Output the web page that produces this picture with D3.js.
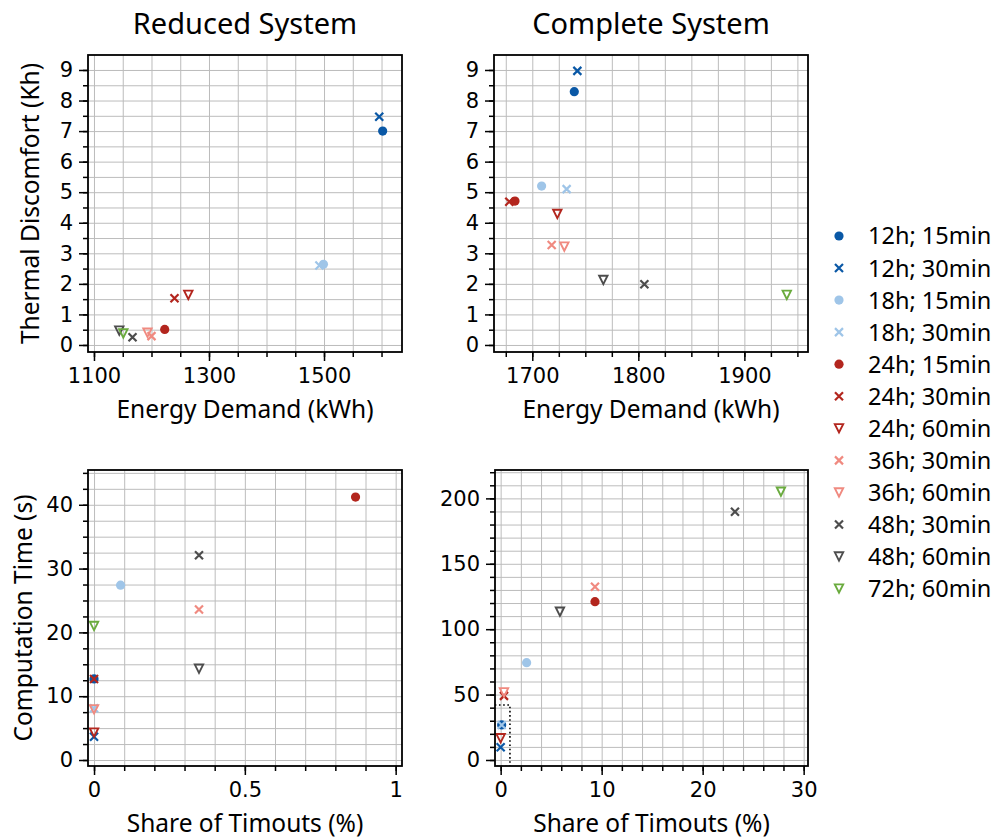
<!DOCTYPE html>
<html>
<head>
<meta charset="utf-8">
<script src="https://cdn.jsdelivr.net/npm/d3@7"></script>
<style>
  body { margin: 0; background: #fff; }
  svg { display: block; }
</style>
</head>
<body>
<div class="container"></div>
<script>
// series (legend order)
const seriesLabels = ['12h; 15min', '12h; 30min', '18h; 15min', '18h; 30min', '24h; 15min', '24h; 30min',
    '24h; 60min', '36h; 30min', '36h; 60min', '48h; 30min', '48h; 60min', '72h; 60min']
const seriesColors = ['#0a58a6', '#0a58a6', '#9fc5e8', '#9fc5e8', '#b3261e', '#b3261e',
    '#b3261e', '#f08a80', '#f08a80', '#4d4d4d', '#4d4d4d', '#6aab3e']
const seriesMarkers = ['circle', 'cross', 'circle', 'cross', 'circle', 'cross',
    'tri', 'cross', 'tri', 'cross', 'tri', 'tri']

// values
const reducedEnergy = [1602, 1596, 1499, 1492, 1223, 1240, 1264, 1200, 1193, 1167, 1144, 1151]
const reducedDiscomfort = [7.0, 7.47, 2.64, 2.6, 0.51, 1.53, 1.64, 0.29, 0.40, 0.25, 0.47, 0.38]
const completeEnergy = [1739.6, 1742.5, 1708.8, 1732.4, 1683.7, 1678.3, 1723.6, 1718.3, 1730.2, 1805.7, 1767, 1940]
const completeDiscomfort = [8.29, 8.97, 5.20, 5.10, 4.71, 4.69, 4.29, 3.27, 3.22, 1.99, 2.13, 1.64]
const reducedTimeouts = [0, 0, 0.088, 0, 0.867, 0, 0, 0.348, 0, 0.348, 0.348, 0]
const reducedTime = [12.7, 3.65, 27.4, 8.1, 41.2, 12.7, 4.3, 23.6, 7.95, 32.1, 14.3, 21.0]
const completeTimeouts = [0.1, 0, 2.57, 0.1, 9.34, 0.33, 0, 9.34, 0.33, 23.2, 5.87, 27.75]
const completeTime = [26.8, 9.7, 74.4, 26.8, 121.0, 49.0, 16.6, 132.5, 51.7, 189.8, 113.4, 205.1]

// tick labels
const reducedEnergyTicks = [1100, 1300, 1500]
const completeEnergyTicks = [1700, 1800, 1900]
const discomfortTicks = [0, 1, 2, 3, 4, 5, 6, 7, 8, 9]
const reducedShareTicks = [0, 0.5, 1]
const reducedTimeTicks = [0, 10, 20, 30, 40]
const completeShareTicks = [0, 10, 20, 30]
const completeTimeTicks = [0, 50, 100, 150, 200]

const tickFont = '"DejaVu Sans", sans-serif'
const labelFont = '"Noto Sans", sans-serif'

const svg = d3.select('.container')
    .append('svg')
    .attr('width', 994)
    .attr('height', 838)

const panels = [
    { left: 88, top: 55, w: 314, h: 297, xDom: [1089.6, 1635.6], yDom: [-0.23, 9.49],
      xTicks: reducedEnergyTicks, xMinor: 50, yTicks: discomfortTicks, yMinor: 0.5,
      xs: reducedEnergy, ys: reducedDiscomfort, title: 'Reduced System',
      xLabel: 'Energy Demand (kWh)', yLabel: 'Thermal Discomfort (Kh)', yLabelX: 39 },
    { left: 494, top: 55, w: 314, h: 297, xDom: [1663.9, 1960], yDom: [-0.23, 9.49],
      xTicks: completeEnergyTicks, xMinor: 25, yTicks: discomfortTicks, yMinor: 0.5,
      xs: completeEnergy, ys: completeDiscomfort, title: 'Complete System',
      xLabel: 'Energy Demand (kWh)' },
    { left: 88, top: 470, w: 314, h: 296, xDom: [-0.02, 1.021], yDom: [-0.94, 45.45],
      xTicks: reducedShareTicks, xMinor: 0.1, yTicks: reducedTimeTicks, yMinor: 2.5,
      xs: reducedTimeouts, ys: reducedTime,
      xLabel: 'Share of Timouts (%)', yLabel: 'Computation Time (s)', yLabelX: 32 },
    { left: 495, top: 470, w: 313, h: 296, xDom: [-0.56, 30.43], yDom: [-4.6, 221.7],
      xTicks: completeShareTicks, xMinor: 2, yTicks: completeTimeTicks, yMinor: 10,
      xs: completeTimeouts, ys: completeTime,
      xLabel: 'Share of Timouts (%)', box: { x: [-1, 0.92], y: [-5, 42] } },
]

const minorValues = (dom, step) => {
    const out = []
    const start = Math.ceil(dom[0] / step - 1e-9)
    for (let k = start; k * step <= dom[1] + 1e-9; k++) out.push(+(k * step).toFixed(6))
    return out
}

const drawMarker = (sel, kind, color) => {
    if (kind === 'circle') {
        sel.append('circle').attr('r', 4.6).attr('fill', color)
    } else if (kind === 'cross') {
        sel.append('path').attr('d', 'M-4,-4L4,4M-4,4L4,-4')
            .attr('stroke', color).attr('stroke-width', 2.2).attr('fill', 'none')
    } else {
        sel.append('path').attr('d', 'M-4.2,-4.2L4.2,-4.2L0,4.2Z')
            .attr('stroke', color).attr('stroke-width', 1.9).attr('fill', 'none')
            .attr('stroke-linejoin', 'miter')
    }
}

panels.forEach((p, pi) => {
    const g = svg.append('g').attr('transform', `translate(${p.left}, ${p.top})`)
    const x = d3.scaleLinear().domain(p.xDom).range([0, p.w])
    const y = d3.scaleLinear().domain(p.yDom).range([p.h, 0])
    const xMinorVals = minorValues(p.xDom, p.xMinor)
    const yMinorVals = minorValues(p.yDom, p.yMinor)

    // grid (major + minor)
    g.append('g')
        .attr('class', 'grid')
        .attr('transform', `translate(0, ${p.h})`)
        .call(d3.axisBottom(x).tickValues(xMinorVals).tickSize(-p.h).tickFormat(''))
    g.append('g')
        .attr('class', 'grid')
        .call(d3.axisLeft(y).tickValues(yMinorVals).tickSize(-p.w).tickFormat(''))
    g.selectAll('.grid .domain').remove()
    g.selectAll('.grid line').attr('stroke', '#bcbcbc').attr('stroke-width', 1)

    const clipId = 'clip' + pi
    g.append('clipPath').attr('id', clipId)
        .append('rect').attr('width', p.w).attr('height', p.h)

    const plot = g.append('g').attr('clip-path', `url(#${clipId})`)

    if (p.box) {
        plot.append('rect')
            .attr('x', x(p.box.x[0]))
            .attr('y', y(p.box.y[1]))
            .attr('width', x(p.box.x[1]) - x(p.box.x[0]))
            .attr('height', y(p.box.y[0]) - y(p.box.y[1]))
            .attr('fill', 'none')
            .attr('stroke', '#000')
            .attr('stroke-width', 1.6)
            .attr('stroke-dasharray', '1.6,2.6')
    }

    p.xs.forEach((v, i) => {
        const m = plot.append('g').attr('transform', `translate(${x(v)}, ${y(p.ys[i])})`)
        drawMarker(m, seriesMarkers[i], seriesColors[i])
    })

    // minor ticks
    g.append('g')
        .attr('class', 'minor')
        .attr('transform', `translate(0, ${p.h})`)
        .call(d3.axisBottom(x).tickValues(xMinorVals).tickSize(5).tickFormat(''))
    g.append('g')
        .attr('class', 'minor')
        .call(d3.axisLeft(y).tickValues(yMinorVals).tickSize(5).tickFormat(''))

    // major ticks
    g.append('g')
        .attr('class', 'major')
        .attr('transform', `translate(0, ${p.h})`)
        .call(d3.axisBottom(x).tickValues(p.xTicks).tickSize(9).tickPadding(7).tickFormat(d3.format('~g')))
    g.append('g')
        .attr('class', 'major')
        .call(d3.axisLeft(y).tickValues(p.yTicks).tickSize(9).tickPadding(6).tickFormat(d3.format('~g')))

    g.selectAll('.minor .domain, .major .domain').remove()
    g.selectAll('.minor line, .major line').attr('stroke', '#000').attr('stroke-width', 1.5)
    g.selectAll('.major text')
        .attr('font-family', tickFont)
        .attr('font-size', 21)
        .attr('fill', '#000')

    // spines
    g.append('rect')
        .attr('width', p.w).attr('height', p.h)
        .attr('fill', 'none').attr('stroke', '#000').attr('stroke-width', 1.8)

    if (p.title) {
        g.append('text')
            .attr('x', p.w / 2).attr('y', -21)
            .attr('text-anchor', 'middle')
            .attr('font-family', labelFont).attr('font-size', 29)
            .text(p.title)
    }
    g.append('text')
        .attr('x', p.w / 2).attr('y', p.h + 66)
        .attr('text-anchor', 'middle')
        .attr('font-family', labelFont).attr('font-size', 24.5)
        .text(p.xLabel)
    if (p.yLabel) {
        g.append('text')
            .attr('transform', `translate(${p.yLabelX - p.left}, ${p.h / 2}) rotate(-90)`)
            .attr('text-anchor', 'middle')
            .attr('font-family', labelFont).attr('font-size', 24.5)
            .text(p.yLabel)
    }
})

// legend
const legend = svg.append('g').attr('transform', 'translate(839, 236)')
seriesLabels.forEach((lab, i) => {
    const row = legend.append('g').attr('transform', `translate(0, ${i * 32.05})`)
    drawMarker(row, seriesMarkers[i], seriesColors[i])
    row.append('text')
        .attr('x', 29).attr('dy', '0.36em')
        .attr('font-family', labelFont).attr('font-size', 23.5)
        .text(lab)
})
</script>
</body>
</html>
